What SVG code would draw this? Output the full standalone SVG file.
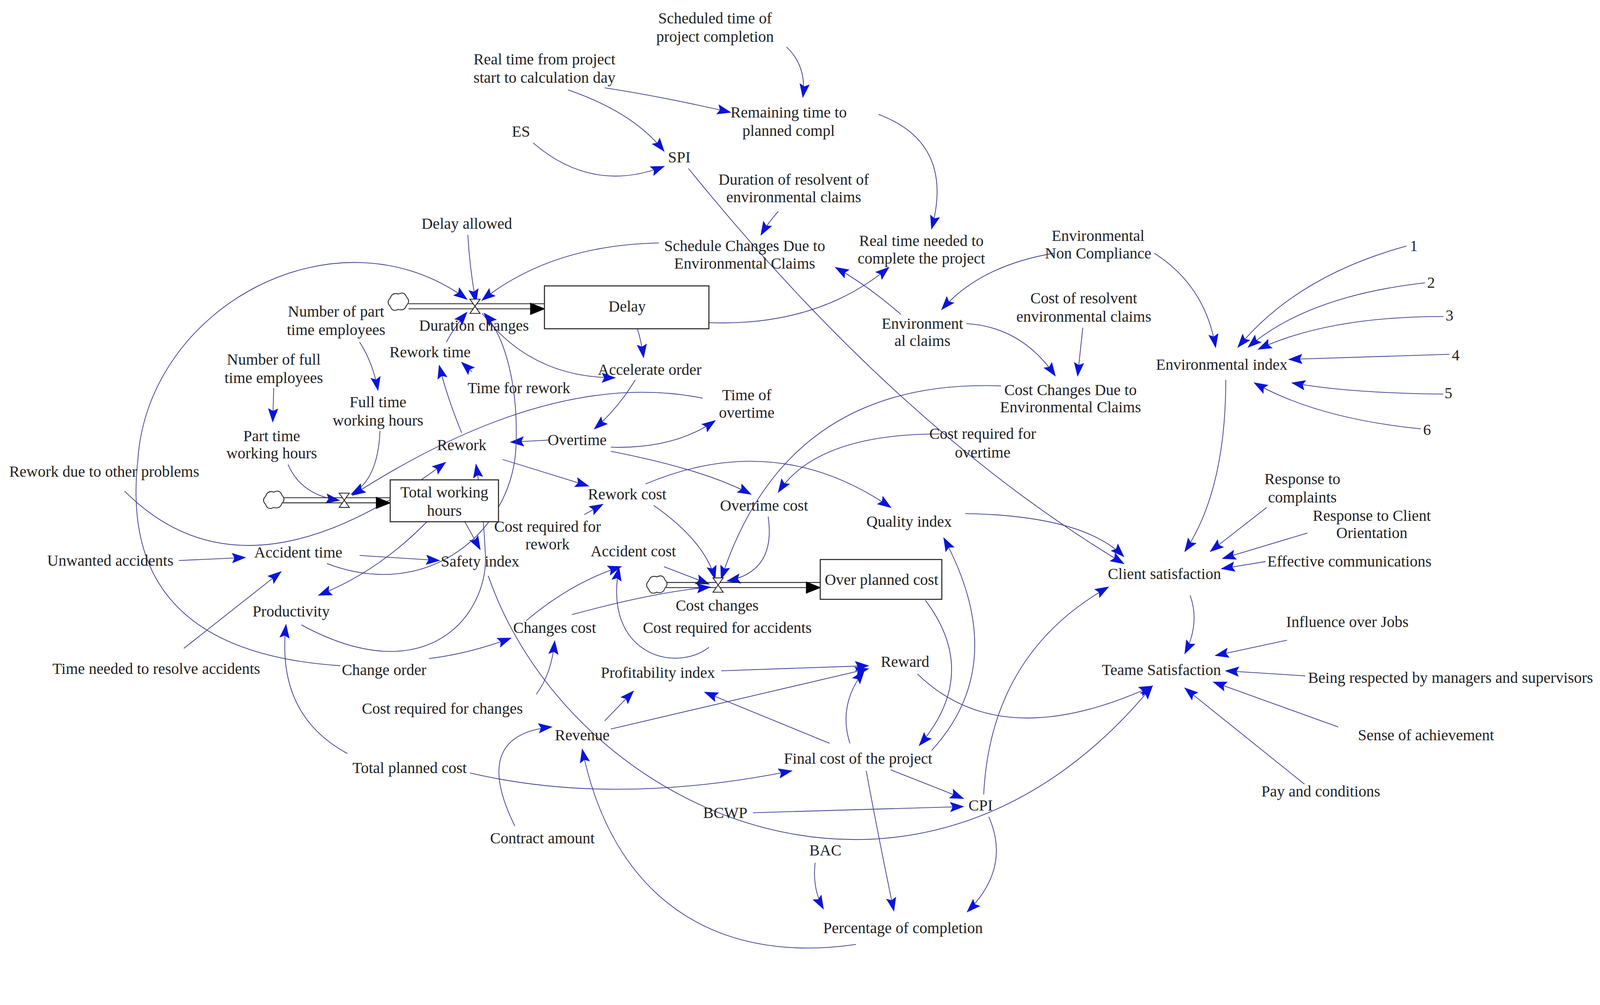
<svg xmlns="http://www.w3.org/2000/svg" width="4310" height="2574" viewBox="0 0 4310 2574">
<defs>
<marker id="a" markerUnits="userSpaceOnUse" markerWidth="16" markerHeight="12" refX="13" refY="5" orient="auto"><path d="M0,0 L14,5 L0,10 L2.5,5 Z" fill="#0a14d8"/></marker>
<marker id="b" markerUnits="userSpaceOnUse" markerWidth="16" markerHeight="14" refX="14" refY="6" orient="auto"><path d="M0,0 L15,6 L0,12 Z" fill="#000"/></marker>
<style>
text{font-family:"Liberation Serif","Times New Roman",serif;font-size:15.3px;fill:#222;text-anchor:middle}
.c path{fill:none;stroke:#3a3a8e;stroke-width:0.7;marker-end:url(#a)}
.box{fill:#fff;stroke:#222;stroke-width:1}
.pipe{fill:none;stroke:#222;stroke-width:0.8}
.valve{fill:#fff;stroke:#222;stroke-width:0.8}
.cloud{fill:#fff;stroke:#222;stroke-width:0.8}
</style>
</defs>
<rect width="4310" height="2574" fill="#fff"/>
<g transform="scale(2.615)">
<g id="connectors" class="c">
<path d="M770,46 Q790,65 786,95"/>
<path d="M592,86 Q650,95 715,110"/>
<path d="M556,88 Q620,110 650,148"/>
<path d="M522,140 Q580,190 650,163"/>
<path d="M860,112 Q935,140 912,224"/>
<path d="M674,165 Q880,420 1100,552"/>
<path d="M762,207 Q752,218 745,230"/>
<path d="M645,238 Q540,240 472,294"/>
<path d="M458,230 Q460,265 466,296"/>
<path d="M333,652 C150,640 125,540 135,450 C145,300 330,200 457,293"/>
<path d="M694,316 Q800,320 870,262"/>
<path d="M624,322 Q628,335 630,350"/>
<path d="M472,307 Q520,370 602,370"/>
<path d="M622,372 Q605,400 582,420"/>
<path d="M537,431 L500,433"/>
<path d="M598,438 Q660,440 700,412"/>
<path d="M598,442 Q690,460 735,484"/>
<path d="M452,424 Q438,390 430,358"/>
<path d="M462,364 L452,355"/>
<path d="M437,335 Q445,320 457,306"/>
<path d="M492,450 L576,476"/>
<path d="M688,390 Q540,360 345,485"/>
<path d="M372,422 Q370,470 344,484"/>
<path d="M352,335 Q365,355 370,382"/>
<path d="M268,380 L267,413"/>
<path d="M282,455 Q295,485 332,490"/>
<path d="M122,481 Q240,600 436,453"/>
<path d="M418,511 Q370,560 312,583"/>
<path d="M455,511 L470,538"/>
<path d="M175,549 L240,546"/>
<path d="M352,544 L430,549"/>
<path d="M180,635 L275,560"/>
<path d="M320,552 C420,590 500,520 505,440 C508,380 495,330 474,307"/>
<path d="M295,612 C420,680 480,600 475,540 C473,500 470,480 466,455"/>
<path d="M478,564 C560,800 900,950 1128,672"/>
<path d="M420,645 Q460,640 500,625"/>
<path d="M525,680 Q540,660 543,628"/>
<path d="M515,608 Q560,570 608,555"/>
<path d="M560,602 Q640,580 695,575"/>
<path d="M694,634 C660,660 590,640 606,556"/>
<path d="M650,555 L694,572"/>
<path d="M640,495 Q690,530 700,567"/>
<path d="M752,506 Q760,560 712,569"/>
<path d="M920,425 Q800,425 762,482"/>
<path d="M980,378 Q770,370 706,567"/>
<path d="M632,474 Q760,420 872,497"/>
<path d="M906,588 Q960,660 900,730"/>
<path d="M912,735 Q990,650 924,527"/>
<path d="M832,728 Q820,690 846,657"/>
<path d="M812,728 L690,678"/>
<path d="M706,657 L850,652"/>
<path d="M598,714 L850,655"/>
<path d="M592,706 L620,677"/>
<path d="M504,809 Q460,720 540,712"/>
<path d="M838,925 C700,945 600,880 570,734"/>
<path d="M460,757 Q600,790 775,755"/>
<path d="M340,738 Q270,700 280,612"/>
<path d="M872,754 L943,782"/>
<path d="M737,796 L943,790"/>
<path d="M848,755 Q860,820 875,892"/>
<path d="M968,800 Q990,850 947,893"/>
<path d="M798,845 Q795,870 806,890"/>
<path d="M963,778 Q970,640 1085,575"/>
<path d="M898,660 Q980,740 1128,672"/>
<path d="M945,503 Q1060,505 1100,545"/>
<path d="M1165,583 Q1175,610 1160,640"/>
<path d="M1200,372 Q1200,480 1160,540"/>
<path d="M1240,497 L1185,540"/>
<path d="M1280,522 L1197,547"/>
<path d="M1239,550 L1196,557"/>
<path d="M1130,248 Q1180,280 1190,340"/>
<path d="M1032,248 Q960,260 922,303"/>
<path d="M882,308 Q850,280 818,262"/>
<path d="M946,317 Q1000,320 1033,368"/>
<path d="M1060,321 L1055,368"/>
<path d="M1377,241 Q1270,270 1212,340"/>
<path d="M1395,277 Q1280,290 1222,340"/>
<path d="M1413,310 Q1300,310 1232,342"/>
<path d="M1419,347 L1262,352"/>
<path d="M1413,386 Q1320,385 1265,375"/>
<path d="M1391,420 Q1290,410 1228,375"/>
<path d="M1260,627 L1190,642"/>
<path d="M1278,662 L1200,657"/>
<path d="M1310,712 L1188,668"/>
<path d="M1277,768 L1160,674"/>
<path d="M572,504 L590,494"/>
</g>
<g id="flows">
<path class="pipe" d="M400,297.5 H533 M400,302.5 H533" marker-end="url(#b)"/>
<path class="pipe" d="M277,487.5 H382 M277,492.5 H382" marker-end="url(#b)"/>
<path class="pipe" d="M652,570.5 H803 M652,575.5 H803" marker-end="url(#b)"/>
<path class="cloud" d="M382,292 q2,-6 8,-4 q6,-3 8,3 q4,4 0,8 q-2,6 -8,4 q-6,3 -8,-3 q-4,-4 0,-8z"/>
<path class="cloud" d="M260,486 q2,-6 8,-4 q6,-3 8,3 q4,4 0,8 q-2,6 -8,4 q-6,3 -8,-3 q-4,-4 0,-8z"/>
<path class="cloud" d="M635,569 q2,-6 8,-4 q6,-3 8,3 q4,4 0,8 q-2,6 -8,4 q-6,3 -8,-3 q-4,-4 0,-8z"/>
<path class="valve" d="M460,293 H470 L460,307 H470 Z"/>
<path class="valve" d="M332,483 H342 L332,497 H342 Z"/>
<path class="valve" d="M698,566 H708 L698,580 H708 Z"/>
</g>
<g id="n_sched"><text x="700" y="23">Scheduled time of</text><text x="700" y="41">project completion</text></g>
<g id="n_realtime"><text x="533" y="63">Real time from project</text><text x="533" y="81">start to calculation day</text></g>
<g id="n_remaining"><text x="772" y="115">Remaining time to</text><text x="772" y="133">planned compl</text></g>
<g id="n_es"><text x="510" y="134">ES</text></g>
<g id="n_spi"><text x="665" y="159">SPI</text></g>
<g id="n_durres"><text x="777" y="181">Duration of resolvent of</text><text x="777" y="198">environmental claims</text></g>
<g id="n_delayallowed"><text x="457" y="224">Delay allowed</text></g>
<g id="n_schedchg"><text x="729" y="246">Schedule Changes Due to</text><text x="729" y="263">Environmental Claims</text></g>
<g id="n_realneeded"><text x="902" y="241">Real time needed to</text><text x="902" y="258">complete the project</text></g>
<g id="n_envnon"><text x="1075" y="236">Environmental</text><text x="1075" y="253">Non Compliance</text></g>
<g id="n_1"><text x="1384" y="246">1</text></g>
<g id="n_2"><text x="1401" y="282">2</text></g>
<g id="n_3"><text x="1419" y="314">3</text></g>
<g id="n_4"><text x="1425" y="353">4</text></g>
<g id="n_5"><text x="1418" y="390">5</text></g>
<g id="n_6"><text x="1397" y="426">6</text></g>
<g id="n_delay"><rect class="box" x="533" y="280" width="161" height="42"/><text x="614" y="305">Delay</text></g>
<g id="n_durchg"><text x="464" y="324">Duration changes</text></g>
<g id="n_numpart"><text x="329" y="310">Number of part</text><text x="329" y="328">time employees</text></g>
<g id="n_costres"><text x="1061" y="297">Cost of resolvent</text><text x="1061" y="315">environmental claims</text></g>
<g id="n_envclaims"><text x="903" y="322">Environment</text><text x="903" y="339">al claims</text></g>
<g id="n_reworktime"><text x="421" y="350">Rework time</text></g>
<g id="n_envindex"><text x="1196" y="362">Environmental index</text></g>
<g id="n_accel"><text x="636" y="367">Accelerate order</text></g>
<g id="n_numfull"><text x="268" y="357">Number of full</text><text x="268" y="375">time employees</text></g>
<g id="n_timerework"><text x="508" y="385">Time for rework</text></g>
<g id="n_fulltime"><text x="370" y="399">Full time</text><text x="370" y="417">working hours</text></g>
<g id="n_costchgenv"><text x="1048" y="387">Cost Changes Due to</text><text x="1048" y="404">Environmental Claims</text></g>
<g id="n_timeot"><text x="731" y="392">Time of</text><text x="731" y="409">overtime</text></g>
<g id="n_parttime"><text x="266" y="432">Part time</text><text x="266" y="449">working hours</text></g>
<g id="n_rework"><text x="452" y="441">Rework</text></g>
<g id="n_overtime"><text x="565" y="436">Overtime</text></g>
<g id="n_costot"><text x="962" y="430">Cost required for</text><text x="962" y="448">overtime</text></g>
<g id="n_reworkother"><text x="102" y="467">Rework due to other problems</text></g>
<g id="n_twh"><rect class="box" x="382" y="470" width="106" height="41"/><text x="435" y="487">Total working</text><text x="435" y="505">hours</text></g>
<g id="n_reworkcost"><text x="614" y="489">Rework cost</text></g>
<g id="n_otcost"><text x="748" y="500">Overtime cost</text></g>
<g id="n_respcompl"><text x="1275" y="474">Response to</text><text x="1275" y="492">complaints</text></g>
<g id="n_respclient"><text x="1343" y="510">Response to Client</text><text x="1343" y="527">Orientation</text></g>
<g id="n_quality"><text x="890" y="516">Quality index</text></g>
<g id="n_costrework"><text x="536" y="521">Cost required for</text><text x="536" y="538">rework</text></g>
<g id="n_acccost"><text x="620" y="545">Accident cost</text></g>
<g id="n_effcomm"><text x="1321" y="555">Effective communications</text></g>
<g id="n_unwanted"><text x="108" y="554">Unwanted accidents</text></g>
<g id="n_acctime"><text x="292" y="546">Accident time</text></g>
<g id="n_safety"><text x="470" y="555">Safety index</text></g>
<g id="n_client"><text x="1140" y="567">Client satisfaction</text></g>
<g id="n_overplanned"><rect class="box" x="803" y="548" width="119" height="39"/><text x="863" y="573">Over planned cost</text></g>
<g id="n_costchanges"><text x="702" y="598">Cost changes</text></g>
<g id="n_productivity"><text x="285" y="604">Productivity</text></g>
<g id="n_changescost"><text x="543" y="620">Changes cost</text></g>
<g id="n_costacc"><text x="712" y="620">Cost required for accidents</text></g>
<g id="n_influence"><text x="1319" y="614">Influence over Jobs</text></g>
<g id="n_timeresolve"><text x="153" y="660">Time needed to resolve accidents</text></g>
<g id="n_changeorder"><text x="376" y="661">Change order</text></g>
<g id="n_profit"><text x="644" y="664">Profitability index</text></g>
<g id="n_reward"><text x="886" y="653">Reward</text></g>
<g id="n_teame"><text x="1137" y="661">Teame Satisfaction</text></g>
<g id="n_respected"><text x="1420" y="669">Being respected by managers and supervisors</text></g>
<g id="n_costchg"><text x="433" y="699">Cost required for changes</text></g>
<g id="n_revenue"><text x="570" y="725">Revenue</text></g>
<g id="n_sense"><text x="1396" y="725">Sense of achievement</text></g>
<g id="n_finalcost"><text x="840" y="748">Final cost of the project</text></g>
<g id="n_totalplanned"><text x="401" y="757">Total planned cost</text></g>
<g id="n_pay"><text x="1293" y="780">Pay and conditions</text></g>
<g id="n_bcwp"><text x="710" y="801">BCWP</text></g>
<g id="n_cpi"><text x="960" y="794">CPI</text></g>
<g id="n_contract"><text x="531" y="826">Contract amount</text></g>
<g id="n_bac"><text x="808" y="838">BAC</text></g>
<g id="n_pct"><text x="884" y="914">Percentage of completion</text></g>
</g>
</svg>
